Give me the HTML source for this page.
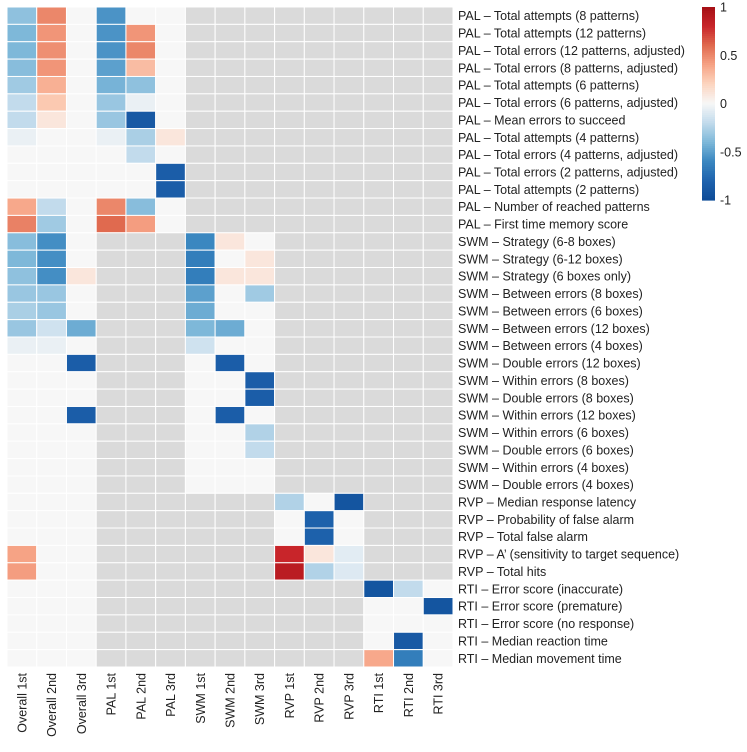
<!DOCTYPE html>
<html><head><meta charset="utf-8"><style>
body{margin:0;background:#fff;}
svg text{font-family:"Liberation Sans",Arial,sans-serif;fill:#222;}
</style></head><body>
<svg id="chart" width="747" height="747"></svg>
<script>
const columns=["Overall 1st","Overall 2nd","Overall 3rd","PAL 1st","PAL 2nd","PAL 3rd","SWM 1st","SWM 2nd","SWM 3rd","RVP 1st","RVP 2nd","RVP 3rd","RTI 1st","RTI 2nd","RTI 3rd"];
const rows=["PAL – Total attempts (8 patterns)","PAL – Total attempts (12 patterns)","PAL – Total errors (12 patterns, adjusted)","PAL – Total errors (8 patterns, adjusted)","PAL – Total attempts (6 patterns)","PAL – Total errors (6 patterns, adjusted)","PAL – Mean errors to succeed","PAL – Total attempts (4 patterns)","PAL – Total errors (4 patterns, adjusted)","PAL – Total errors (2 patterns, adjusted)","PAL – Total attempts (2 patterns)","PAL – Number of reached patterns","PAL – First time memory score",
"SWM – Strategy (6-8 boxes)","SWM – Strategy (6-12 boxes)","SWM – Strategy (6 boxes only)","SWM – Between errors (8 boxes)","SWM – Between errors (6 boxes)","SWM – Between errors (12 boxes)","SWM – Between errors (4 boxes)","SWM – Double errors (12 boxes)","SWM – Within errors (8 boxes)","SWM – Double errors (8 boxes)","SWM – Within errors (12 boxes)","SWM – Within errors (6 boxes)","SWM – Double errors (6 boxes)","SWM – Within errors (4 boxes)","SWM – Double errors (4 boxes)",
"RVP – Median response latency","RVP – Probability of false alarm","RVP – Total false alarm","RVP – A’ (sensitivity to target sequence)","RVP – Total hits",
"RTI – Error score (inaccurate)","RTI – Error score (premature)","RTI – Error score (no response)","RTI – Median reaction time","RTI – Median movement time"];
const N=null;
const values=[
[-0.35,0.5,0,-0.55,0,0,N,N,N,N,N,N,N,N,N],
[-0.4,0.45,0,-0.55,0.45,0,N,N,N,N,N,N,N,N,N],
[-0.4,0.47,0,-0.55,0.5,0,N,N,N,N,N,N,N,N,N],
[-0.37,0.45,0,-0.5,0.3,0,N,N,N,N,N,N,N,N,N],
[-0.3,0.35,0,-0.42,-0.35,0,N,N,N,N,N,N,N,N,N],
[-0.2,0.25,0,-0.32,-0.05,0,N,N,N,N,N,N,N,N,N],
[-0.2,0.1,0,-0.32,-0.88,0,N,N,N,N,N,N,N,N,N],
[-0.05,0,0,-0.05,-0.27,0.1,N,N,N,N,N,N,N,N,N],
[0,0,0,0,-0.2,0,N,N,N,N,N,N,N,N,N],
[0,0,0,0,0,-0.85,N,N,N,N,N,N,N,N,N],
[0,0,0,0,0,-0.85,N,N,N,N,N,N,N,N,N],
[0.38,-0.2,0,0.5,-0.37,0,N,N,N,N,N,N,N,N,N],
[0.52,-0.3,0,0.6,0.42,0,N,N,N,N,N,N,N,N,N],
[-0.37,-0.57,0,N,N,N,-0.6,0.1,0,N,N,N,N,N,N],
[-0.4,-0.57,0,N,N,N,-0.65,0,0.1,N,N,N,N,N,N],
[-0.35,-0.57,0.1,N,N,N,-0.65,0.1,0.1,N,N,N,N,N,N],
[-0.32,-0.32,0,N,N,N,-0.5,0,-0.3,N,N,N,N,N,N],
[-0.27,-0.32,0,N,N,N,-0.45,0,0,N,N,N,N,N,N],
[-0.32,-0.15,-0.45,N,N,N,-0.4,-0.45,0,N,N,N,N,N,N],
[-0.05,-0.05,0,N,N,N,-0.15,0,0,N,N,N,N,N,N],
[0,0,-0.85,N,N,N,0,-0.85,0,N,N,N,N,N,N],
[0,0,0,N,N,N,0,0,-0.85,N,N,N,N,N,N],
[0,0,0,N,N,N,0,0,-0.85,N,N,N,N,N,N],
[0,0,-0.85,N,N,N,0,-0.85,0,N,N,N,N,N,N],
[0,0,0,N,N,N,0,0,-0.25,N,N,N,N,N,N],
[0,0,0,N,N,N,0,0,-0.2,N,N,N,N,N,N],
[0,0,0,N,N,N,0,0,0,N,N,N,N,N,N],
[0,0,0,N,N,N,0,0,0,N,N,N,N,N,N],
[0,0,0,N,N,N,N,N,N,-0.25,0,-0.92,N,N,N],
[0,0,0,N,N,N,N,N,N,0,-0.82,0,N,N,N],
[0,0,0,N,N,N,N,N,N,0,-0.82,0,N,N,N],
[0.4,0,0,N,N,N,N,N,N,0.8,0.1,-0.08,N,N,N],
[0.42,0,0,N,N,N,N,N,N,0.88,-0.25,-0.1,N,N,N],
[0,0,0,N,N,N,N,N,N,N,N,N,-0.92,-0.2,0],
[0,0,0,N,N,N,N,N,N,N,N,N,0,0,-0.92],
[0,0,0,N,N,N,N,N,N,N,N,N,0,0,0],
[0,0,0,N,N,N,N,N,N,N,N,N,0,-0.88,0],
[0,0,0,N,N,N,N,N,N,N,N,N,0.38,-0.65,0]
];
const cbTicks=[1,0.5,0,-0.5,-1];

const stops=["#0d4b97","#1f63ad","#3a87c0","#7eb8d9","#c2dbec","#f7f7f7","#fcd5c0","#f6a385","#e06a4f","#c8252a","#a50f15"];
function hex(h){return [1,3,5].map(i=>parseInt(h.substr(i,2),16));}
function color(v){
  if(v===null) return "#dadada";
  const t=(Math.max(-1,Math.min(1,v))+1)/2*(stops.length-1);
  const i=Math.min(stops.length-2,Math.floor(t)),f=t-i;
  const a=hex(stops[i]),b=hex(stops[i+1]);
  return "rgb("+a.map((x,k)=>Math.round(x+(b[k]-x)*f)).join(",")+")";
}
const X0=7,Y0=7,W=446,H=660;
const cw=W/columns.length,ch=H/rows.length;
const xs=c=>X0+c*cw, ys=r=>Y0+r*ch;
const NS="http://www.w3.org/2000/svg";
const svg=document.getElementById("chart");
function mk(t,attrs){const e=document.createElementNS(NS,t);for(const k in attrs)e.setAttribute(k,attrs[k]);svg.appendChild(e);return e;}
values.forEach((row,r)=>row.forEach((v,c)=>{
  const e=mk("rect",{x:xs(c),y:ys(r),width:cw,height:ch,fill:color(v),stroke:"#fff","stroke-width":1});
  
  
}));
rows.forEach((l,r)=>{
  const e=mk("text",{x:458,y:ys(r)+ch/2+4.5,"font-size":12.5});
  e.textContent=l;
  
  
});
columns.forEach((l,c)=>{
  const cx=xs(c)+cw/2+4.5;
  const e=mk("text",{x:cx,y:673,"font-size":12.5,"text-anchor":"end",transform:"rotate(-90 "+cx+" 673)"});
  e.textContent=l;
  
  
});
const CBX=702,CBY=7,CBW=13,CBH=193,steps=100;
const cy=v=>CBY+(1-v)/2*CBH;
for(let i=0;i<steps;i++){
  const v=1-(i+0.5)*2/steps;
  const e=mk("rect",{x:CBX,y:CBY+i*CBH/steps,width:CBW,height:CBH/steps+0.6,fill:color(v)});
  
  
}
cbTicks.forEach(t=>{
  const e=mk("text",{x:720,y:cy(t)+4.5,"font-size":12.5});
  e.textContent=String(t);
  
  
});
</script>
</body></html>
